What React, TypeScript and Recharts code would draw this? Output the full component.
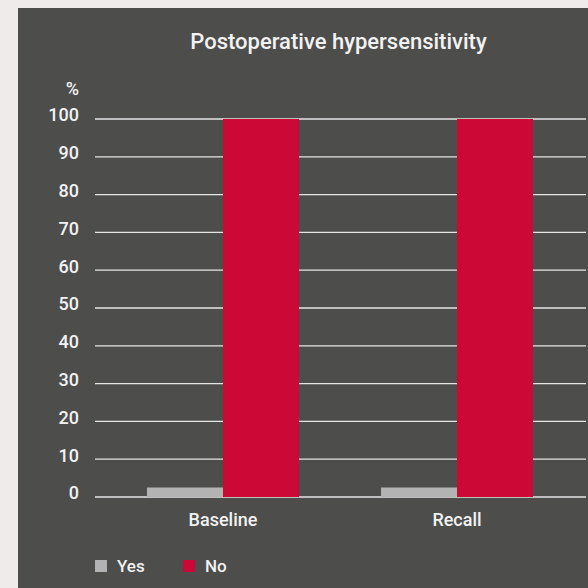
import React from 'react';
import { BarChart, Bar, XAxis, YAxis, CartesianGrid, Legend } from 'recharts';

const categories = ['Baseline', 'Recall'];
const yesValues = [2.5, 2.5];
const noValues = [100, 100];
const yTicks = [0, 10, 20, 30, 40, 50, 60, 70, 80, 90, 100];
const seriesNames = ['Yes', 'No'];
const seriesColors = ['#b3b3b3', '#cc0836'];

const data = categories.map((c, i) => ({ name: c, yes: yesValues[i], no: noValues[i] }));

const FONT = 'Roboto, "Liberation Sans", sans-serif';
const TEXT = '#f2f2f2';

const YTick = (props: any) => {
  const { x, y, payload } = props;
  return (
    <text x={x} y={y - 4} dy="0.36em" textAnchor="end" fill={TEXT} fontFamily={FONT} fontWeight={500} fontSize={18}>
      {payload.value}
    </text>
  );
};

const XTick = (props: any) => {
  const { x, y, payload } = props;
  return (
    <text x={x} y={y + 23} dy="0.36em" textAnchor="middle" fill={TEXT} fontFamily={FONT} fontWeight={500} fontSize={18}>
      {payload.value}
    </text>
  );
};

const LegendContent = () => (
  <div style={{ position: 'relative', height: 20, fontFamily: FONT, fontWeight: 500, fontSize: 17, color: TEXT }}>
    {seriesNames.map((n, i) => (
      <div key={n} style={{ position: 'absolute', left: i === 0 ? 95 : 183, top: 0, display: 'flex', alignItems: 'center', height: 20 }}>
        <span style={{ display: 'inline-block', width: 12, height: 12, background: seriesColors[i], marginRight: 10 }} />
        <span style={{ lineHeight: '20px' }}>{n}</span>
      </div>
    ))}
  </div>
);

export default function App() {
  return (
    <div style={{ position: 'fixed', left: 0, top: 0, width: 588, height: 588, background: '#efebeb', overflow: 'hidden' }}>
      <div style={{ position: 'absolute', left: 18, top: 8, right: 0, bottom: 0, background: '#4d4d4b' }} />
      <div style={{ position: 'absolute', left: 93, top: 31, width: 491, textAlign: 'center', fontFamily: FONT, fontWeight: 500, fontSize: 22, lineHeight: '22px', color: TEXT }}>
        Postoperative hypersensitivity
      </div>
      <div style={{ position: 'absolute', left: 40, top: 80, width: 39, textAlign: 'right', fontFamily: FONT, fontWeight: 500, fontSize: 18, lineHeight: '18px', color: TEXT }}>
        %
      </div>
      <div style={{ position: 'absolute', left: 0, top: 0 }}>
        <BarChart width={588} height={588} data={data} margin={{ top: 119, right: 2, bottom: 61, left: 0 }} barGap={0}>
          <CartesianGrid vertical={false} stroke="#e6e6e6" strokeWidth={1.3} />
          <XAxis dataKey="name" height={30} axisLine={false} tickLine={false} tickSize={0} tickMargin={0} padding={{ left: 11, right: 12 }} tick={<XTick />} interval={0} />
          <YAxis domain={[0, 100]} ticks={yTicks} width={95} axisLine={false} tickLine={false} tickSize={0} tickMargin={16} tick={<YTick />} interval={0} />
          <Legend verticalAlign="middle" align="center" content={<LegendContent />} wrapperStyle={{ position: 'absolute', left: 0, top: 556, width: 588, height: 20 }} />
          <Bar dataKey="yes" name={seriesNames[0]} fill={seriesColors[0]} barSize={76} isAnimationActive={false} />
          <Bar dataKey="no" name={seriesNames[1]} fill={seriesColors[1]} barSize={76} isAnimationActive={false} />
        </BarChart>
      </div>
    </div>
  );
}
